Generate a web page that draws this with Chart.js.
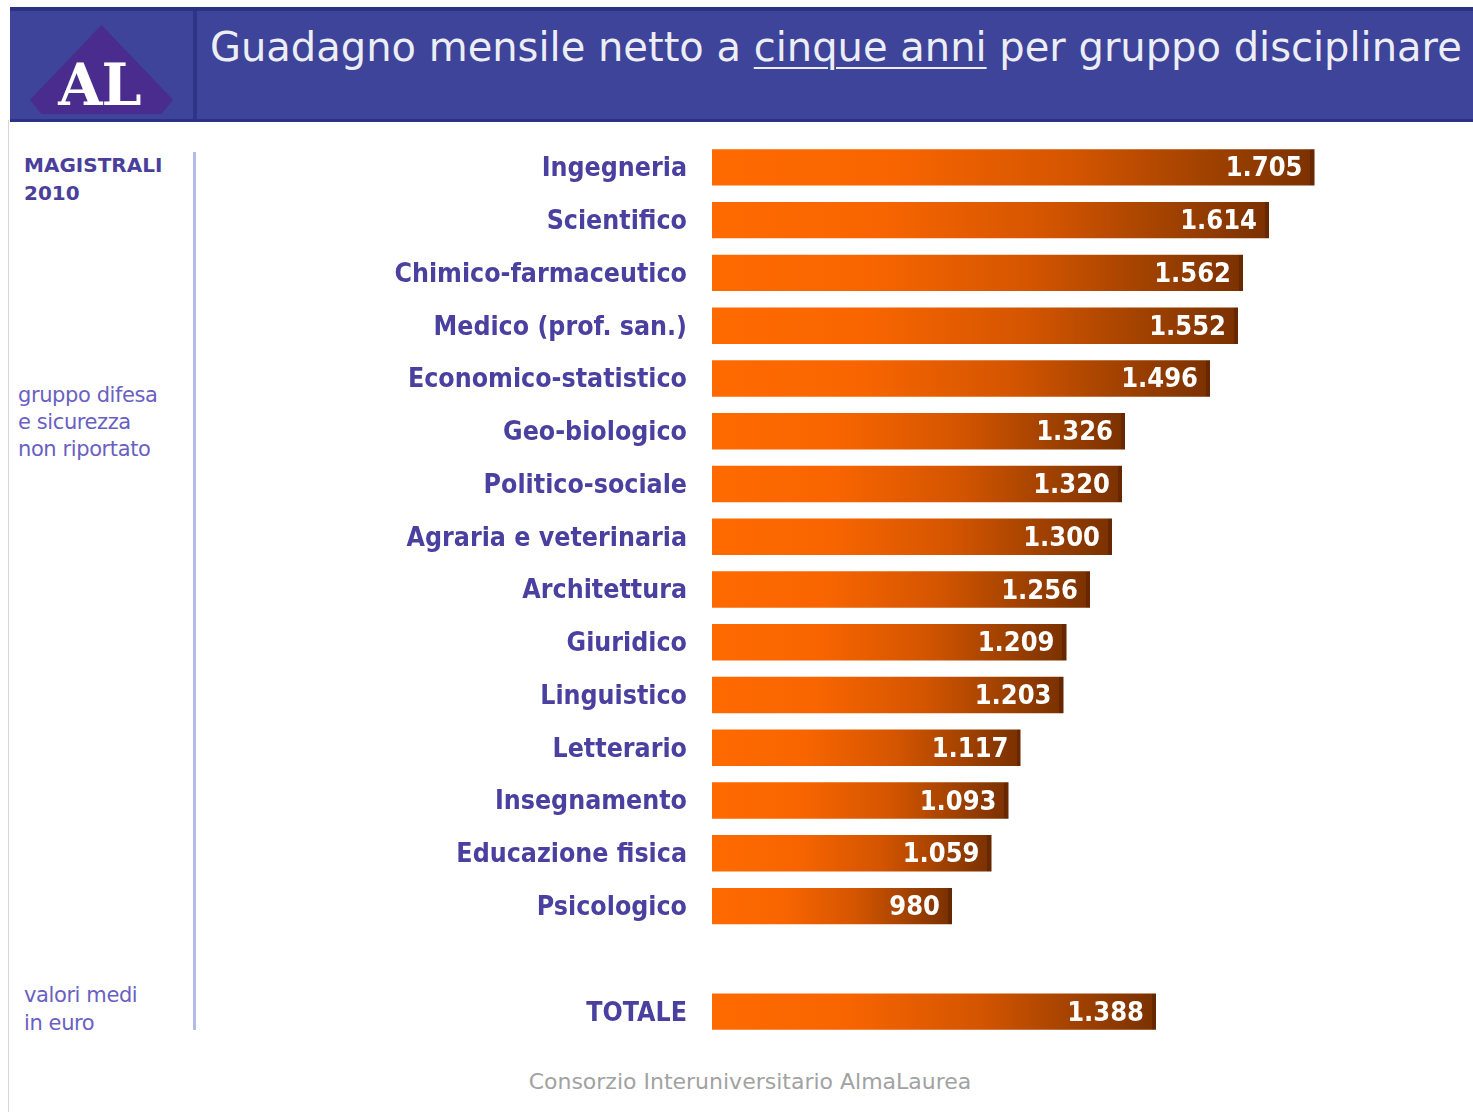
<!DOCTYPE html>
<html>
<head>
<meta charset="utf-8">
<script src="https://cdn.jsdelivr.net/npm/chart.js@4"></script>
<style>
  html, body { margin:0; padding:0; background:#fff; }
  body { width:1473px; height:1112px; position:relative; overflow:hidden; font-family:"DejaVu Sans",sans-serif; }
  #frame { position:absolute; left:8px; top:120px; width:1px; height:992px; background:#d8d8d8; }
  #header { position:absolute; left:10px; top:7px; width:1463px; height:108px; background:#3d4499;
            border-top:4px solid #2c3283; border-bottom:3px solid #2c3283; }
  #divider { position:absolute; left:183px; top:0; width:4px; height:108px; background:#2f3586; }
  #logo { position:absolute; left:20px; top:14px; width:143px; height:89px; background:#4a2c8f;
          clip-path: polygon(50% 0%, 100% 84%, 92% 100%, 8% 100%, 0% 84%); }
  #logoText { position:absolute; left:18px; top:42px; width:143px; text-align:center; color:#fff;
              font-family:"DejaVu Serif","Liberation Serif",serif; font-weight:bold; font-size:57px; line-height:64px; letter-spacing:-1px; }
  #title { position:absolute; left:200px; top:10px; color:#ecedf5; font-family:"DejaVu Sans",sans-serif; font-size:40px; line-height:52px; white-space:nowrap; letter-spacing:0px; }
  #title u { text-decoration-thickness:2px; text-underline-offset:6px; }
  #vline { position:absolute; left:193px; top:152px; width:3px; height:878px; background:#b4bbe6; }
  .side { position:absolute; white-space:nowrap; }
  #mag { left:24px; top:151px; color:#4a3f9a; font-weight:bold; font-size:20px; line-height:28px; letter-spacing:0px; }
  #difesa { left:18px; top:382px; color:#6a5fc2; font-size:21px; line-height:27px; letter-spacing:-0.4px; }
  #valori { left:24px; top:981px; color:#6a5fc2; font-size:21px; line-height:28px; letter-spacing:-0.4px; }
  #footer { position:absolute; left:0; width:1500px; top:1068px; text-align:center; color:#a2a2a2; font-size:22px; line-height:28px; }
  #c { position:absolute; left:0; top:0; }
</style>
</head>
<body>
<div id="frame"></div>
<div id="header">
  <div id="divider"></div>
  <div id="logo"></div>
  <div id="logoText">AL</div>
  <div id="title">Guadagno mensile netto a <u>cinque anni</u> per gruppo disciplinare</div>
</div>
<div id="vline"></div>
<div class="side" id="mag">MAGISTRALI<br>2010</div>
<div class="side" id="difesa">gruppo difesa<br>e sicurezza<br>non riportato</div>
<div class="side" id="valori">valori medi<br>in euro</div>
<div id="footer">Consorzio Interuniversitario AlmaLaurea</div>
<canvas id="c" width="1473" height="1112"></canvas>
<script>
const categories = ["Ingegneria","Scientifico","Chimico-farmaceutico","Medico (prof. san.)","Economico-statistico",
  "Geo-biologico","Politico-sociale","Agraria e veterinaria","Architettura","Giuridico","Linguistico",
  "Letterario","Insegnamento","Educazione fisica","Psicologico","","TOTALE"];
const earnings = [1705,1614,1562,1552,1496,1326,1320,1300,1256,1209,1203,1117,1093,1059,980,null,1388];
const axisMin = 500;
const axisMax = 2000;

function fmt(v){
  if (v >= 1000) return Math.floor(v/1000) + "." + String(v % 1000).padStart(3, "0");
  return String(v);
}

const FONT = '"DejaVu Sans Condensed","DejaVu Sans",sans-serif';

function barGradient(ctx){
  const chart = ctx.chart;
  const v = ctx.raw;
  if (!chart.chartArea || v == null) return '#ff6a00';
  const xs = chart.scales.x;
  const x0 = xs.getPixelForValue(axisMin);
  const x1 = xs.getPixelForValue(v);
  const edge = Math.max(0.9, 1 - 4 / (x1 - x0));
  const g = chart.ctx.createLinearGradient(x0, 0, x1, 0);
  g.addColorStop(0, '#ff6a00');
  g.addColorStop(0.3, '#f86500');
  g.addColorStop(0.6, '#d45500');
  g.addColorStop(0.85, '#9a3f00');
  g.addColorStop(edge, '#7c3200');
  g.addColorStop(edge, '#672800');
  g.addColorStop(1, '#672800');
  return g;
}

const valueLabels = {
  id: 'valueLabels',
  afterDatasetsDraw(chart){
    const c = chart.ctx;
    const meta = chart.getDatasetMeta(0);
    c.save();
    c.font = 'bold 27px ' + FONT;
    c.fillStyle = '#ffffff';
    c.textAlign = 'right';
    c.textBaseline = 'middle';
    meta.data.forEach((el, i) => {
      const v = earnings[i];
      if (v == null) return;
      c.fillText(fmt(v), el.x - 12, el.y + 2);
    });
    c.restore();
  }
};

new Chart(document.getElementById('c'), {
  type: 'bar',
  data: {
    labels: categories,
    datasets: [{
      data: earnings,
      backgroundColor: barGradient,
      borderWidth: 0,
      barPercentage: 0.69,
      categoryPercentage: 1.0
    }]
  },
  options: {
    indexAxis: 'y',
    responsive: false,
    animation: false,
    devicePixelRatio: 1,
    layout: { padding: { left: 200, right: 11, top: 141, bottom: 74 } },
    plugins: { legend: { display:false }, tooltip: { enabled:false }, title: { display:false } },
    scales: {
      x: { display:false, min: axisMin, max: axisMax },
      y: {
        afterFit(scale){ scale.width = 512; },
        grid: { display:false, drawTicks:false },
        border: { display:false },
        ticks: { padding: 25, labelOffset: 2, color:'#4a40a0', font: { family: FONT, size: 26.5, weight: 'bold' } }
      }
    }
  },
  plugins: [valueLabels]
});
</script>
</body>
</html>
